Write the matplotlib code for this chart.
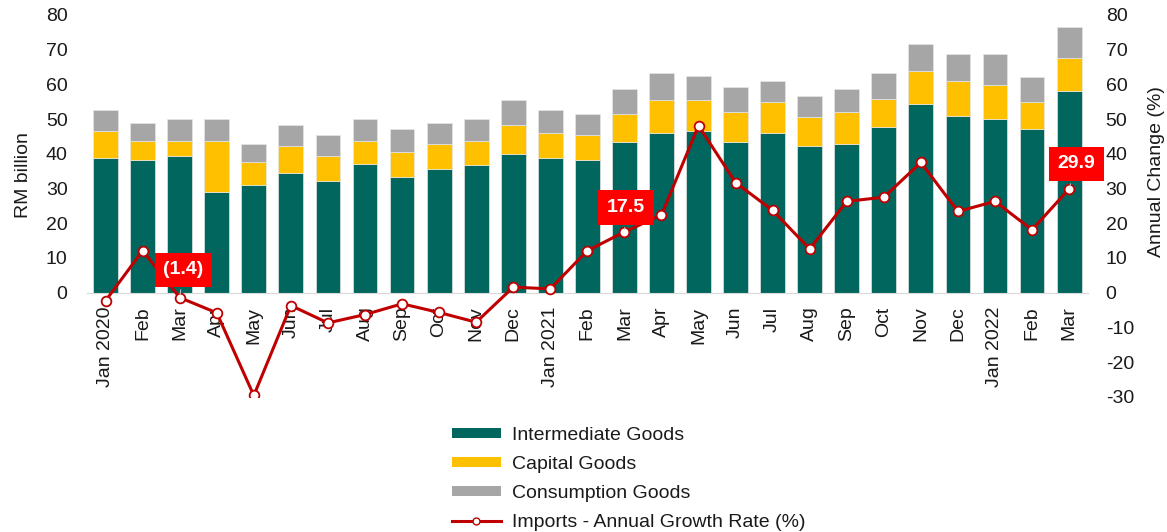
import numpy as np
import matplotlib.pyplot as plt
from matplotlib.lines import Line2D
from matplotlib.patches import Patch

plt.rcParams['font.family'] = ['Liberation Sans', 'DejaVu Sans']
plt.rcParams['axes.unicode_minus'] = False

# Datos (RM mil millones y % anual)
meses = ['Jan 2020', 'Feb', 'Mar', 'Apr', 'May', 'Jun', 'Jul', 'Aug', 'Sep', 'Oct', 'Nov', 'Dec',
         'Jan 2021', 'Feb', 'Mar', 'Apr', 'May', 'Jun', 'Jul', 'Aug', 'Sep', 'Oct', 'Nov', 'Dec',
         'Jan 2022', 'Feb', 'Mar']
intermedios = [38.8, 38.3, 39.4, 29.0, 31.1, 34.4, 32.2, 37.2, 33.3, 35.6, 36.7, 39.9,
               38.8, 38.3, 43.3, 46.0, 46.6, 43.3, 46.0, 42.2, 42.7, 47.7, 54.3, 51.0,
               49.9, 47.1, 58.2]
capital = [7.8, 5.5, 4.4, 14.8, 6.6, 7.8, 7.2, 6.6, 7.2, 7.2, 7.1, 8.3,
           7.2, 7.2, 8.3, 9.5, 8.9, 8.8, 8.9, 8.3, 9.4, 8.2, 9.5, 10.0,
           10.0, 7.8, 9.4]
consumo = [6.1, 5.0, 6.2, 6.2, 5.0, 6.0, 6.1, 6.2, 6.6, 6.0, 6.2, 7.3,
           6.7, 6.1, 7.1, 7.7, 7.0, 7.2, 6.1, 6.0, 6.6, 7.3, 7.7, 7.8,
           8.9, 7.2, 8.9]
crecimiento = [-2.3, 12.1, -1.4, -5.8, -29.6, -3.7, -8.7, -6.3, -3.2, -5.7, -8.5, 1.6,
               1.1, 12.1, 17.5, 22.4, 48.1, 31.7, 23.7, 12.6, 26.3, 27.5, 37.5, 23.4,
               26.3, 18.1, 29.9]
# Etiquetas destacadas: (índice, texto, desplazamiento x, desplazamiento y)
etiquetas = [(2, '(1.4)', 0.1, 8.0), (14, '17.5', 0.05, 7.0), (26, '29.9', 0.2, 7.2)]

verde = '#00665e'
amarillo = '#ffc000'
gris = '#a6a6a6'
rojo = '#c00000'
texto = '#1a1a1a'
fs = 14

x = np.arange(len(meses))
inter = np.array(intermedios)
cap = np.array(capital)
cons = np.array(consumo)

fig = plt.figure(figsize=(11.67, 5.32), dpi=100)
ax = fig.add_axes([0.0746, 0.254, 0.8574, 0.718])

# Primero se coloca el eje x en el cero (esto reinicia los ticks)
for s in ['top', 'right', 'left']:
    ax.spines[s].set_visible(False)
ax.spines['bottom'].set_position(('data', 0))
ax.spines['bottom'].set_color('#d9d9d9')

ax.bar(x, inter, width=0.67, color=verde, edgecolor='#e6e6e6', linewidth=0.5)
ax.bar(x, cap, width=0.67, bottom=inter, color=amarillo, edgecolor='#e6e6e6', linewidth=0.5)
ax.bar(x, cons, width=0.67, bottom=inter + cap, color=gris, edgecolor='#e6e6e6', linewidth=0.5)

ax.set_xlim(-0.5, len(meses) - 0.5)
ax.set_ylim(-30, 80)
ax.set_yticks(np.arange(0, 81, 10))
ax.set_xticks(x)
ax.set_xticklabels(meses)
ax.tick_params(axis='x', length=0, pad=10, labelsize=fs, colors=texto, labelrotation=90)
for lab in ax.get_xticklabels():
    lab.set_va('top')
    lab.set_ha('center')
ax.tick_params(axis='y', length=0, pad=14, labelsize=fs, colors=texto)
ax.set_ylabel('RM billion', fontsize=fs, color=texto)
ax.yaxis.set_label_coords(-0.055, 0.58)

ax2 = ax.twinx()
ax2.set_ylim(-30, 80)
ax2.set_yticks(np.arange(-30, 81, 10))
ax2.tick_params(axis='y', length=0, pad=13, labelsize=fs, colors=texto)
for s in ax2.spines.values():
    s.set_visible(False)
ax2.plot(x, crecimiento, color=rojo, linewidth=2.2, marker='o', markersize=7,
         markerfacecolor='white', markeredgecolor=rojo, markeredgewidth=1.3)
ax2.set_ylabel('Annual Change (%)', fontsize=fs, color=texto)
ax2.yaxis.set_label_coords(1.060, 0.59)

for i, txt, dx, dy in etiquetas:
    ax2.annotate(txt, xy=(x[i], crecimiento[i]), xytext=(x[i] + dx, crecimiento[i] + dy),
                 ha='center', va='center', fontsize=fs, fontweight='bold', color='white',
                 bbox=dict(boxstyle='square,pad=0.45', facecolor='#ff0000', edgecolor='none'),
                 arrowprops=dict(arrowstyle='-', color='#bfbfbf', linewidth=0.8), zorder=5)

handles = [Patch(facecolor=verde, label='Intermediate Goods'),
           Patch(facecolor=amarillo, label='Capital Goods'),
           Patch(facecolor=gris, label='Consumption Goods'),
           Line2D([0], [0], color=rojo, linewidth=2.2, marker='o', markersize=5,
                  markerfacecolor='white', markeredgecolor=rojo,
                  label='Imports - Annual Growth Rate (%)')]
fig.legend(handles=handles, loc='upper left', bbox_to_anchor=(0.379, 0.216), frameon=False,
           fontsize=fs, handlelength=2.5, handleheight=0.45, labelspacing=0.62,
           handletextpad=0.6, borderpad=0, labelcolor=texto)

fig.savefig('out.png', dpi=100)
